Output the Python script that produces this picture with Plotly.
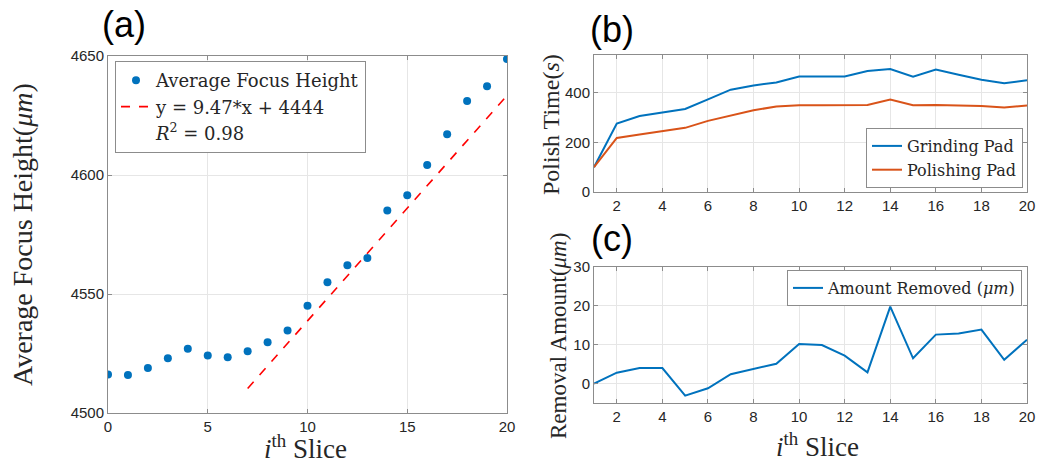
import plotly.graph_objects as go

# ---------------- data ----------------
slices_a = list(range(0, 21))
focus_height = [4516.2, 4516.0, 4518.9, 4523.0, 4527.0, 4524.2, 4523.4, 4525.9, 4529.7,
                4534.7, 4545.1, 4554.9, 4562.1, 4565.1, 4585.1, 4591.5, 4604.2, 4617.1,
                4631.1, 4637.3, 4648.7]
fit_slope = 9.47
fit_intercept = 4444
fit_x = [7, 20]

slices_bc = list(range(1, 21))
grinding_pad = [100, 276, 307, 322, 335, 374, 413, 430, 442, 466, 465, 466, 488, 496,
                465, 494, 473, 453, 439, 451]
polishing_pad = [100, 218, 232, 244, 259, 287, 310, 330, 345, 350, 350, 350, 351, 373,
                 350, 351, 350, 347, 341, 349]
removed = [0.0, 2.8, 4.0, 4.0, -3.1, -1.2, 2.4, 3.7, 5.1, 10.2, 9.9, 7.2, 2.9, 19.8,
           6.5, 12.6, 12.9, 13.9, 6.1, 11.3]

ticks_a_x = [0, 5, 10, 15, 20]
ticks_a_y = [4500, 4550, 4600, 4650]
ticks_bc_x = [2, 4, 6, 8, 10, 12, 14, 16, 18, 20]
ticks_b_y = [0, 200, 400]
ticks_c_y = [0, 10, 20, 30]

BLUE = "#0072BD"
ORANGE = "#D95319"
SERIF = "Liberation Serif"
LEGSERIF = "DejaVu Serif"
SANS = "Liberation Sans"
AXC = "#8c8c8c"
GRID = "#e6e6e6"
W, H = 1038, 465

fig = go.Figure()

fit_y = [fit_slope * x + fit_intercept for x in fit_x]

fig.add_trace(go.Scatter(x=slices_a, y=focus_height, mode="markers",
                         marker=dict(color=BLUE, size=8),
                         name="Average Focus Height", xaxis="x", yaxis="y", legend="legend"))
fig.add_trace(go.Scatter(x=fit_x, y=fit_y, mode="lines",
                         line=dict(color="#FF0000", width=1.6, dash="dash"),
                         name="y = 9.47*x + 4444", xaxis="x", yaxis="y", legend="legend"))
fig.add_trace(go.Scatter(x=[None], y=[None], mode="lines",
                         line=dict(color="rgba(0,0,0,0)", width=0),
                         name="<i>R</i><sup>2</sup> = 0.98", xaxis="x", yaxis="y", legend="legend"))

fig.add_trace(go.Scatter(x=slices_bc, y=grinding_pad, mode="lines",
                         line=dict(color=BLUE, width=2), name="Grinding Pad",
                         xaxis="x2", yaxis="y2", legend="legend2"))
fig.add_trace(go.Scatter(x=slices_bc, y=polishing_pad, mode="lines",
                         line=dict(color=ORANGE, width=2), name="Polishing Pad",
                         xaxis="x2", yaxis="y2", legend="legend2"))

fig.add_trace(go.Scatter(x=slices_bc, y=removed, mode="lines",
                         line=dict(color=BLUE, width=2), name="Amount Removed (<i>μm</i>)",
                         xaxis="x3", yaxis="y3", legend="legend3"))


def px_x(p):
    return p / W


def px_y(p):
    return 1 - p / H


def axis(domain, rng, tickvals, anchor):
    return dict(domain=domain, range=rng, tickvals=tickvals, anchor=anchor,
                automargin=False,
                showline=True, linecolor=AXC, linewidth=1, mirror="ticks",
                ticks="inside", ticklen=4, tickcolor=AXC,
                showgrid=True, gridcolor=GRID, gridwidth=1, zeroline=False,
                tickfont=dict(family=SANS, size=15, color="#262626"))


fig.update_layout(
    template="none",
    width=W, height=H,
    margin=dict(l=0, r=0, t=0, b=0, autoexpand=False),
    paper_bgcolor="white", plot_bgcolor="white",
    showlegend=True,
    xaxis=axis([px_x(108), px_x(507)], [0, 20], ticks_a_x, "y"),
    yaxis=axis([px_y(413), px_y(56)], [4500, 4650], ticks_a_y, "x"),
    xaxis2=axis([px_x(594), px_x(1027)], [1, 20], ticks_bc_x, "y2"),
    yaxis2=axis([px_y(192), px_y(55)], [0, 553], ticks_b_y, "x2"),
    xaxis3=axis([px_x(594), px_x(1027)], [1, 20], ticks_bc_x, "y3"),
    yaxis3=axis([px_y(403), px_y(267)], [-5, 30], ticks_c_y, "x3"),
    legend=dict(x=px_x(115), y=px_y(61), xanchor="left", yanchor="top",
                bgcolor="white", bordercolor=AXC, borderwidth=1,
                font=dict(family=LEGSERIF, size=18, color="#262626"),
                itemwidth=30, tracegroupgap=0),
    legend2=dict(x=px_x(1023), y=px_y(188), xanchor="right", yanchor="bottom",
                 bgcolor="white", bordercolor=AXC, borderwidth=1,
                 font=dict(family=LEGSERIF, size=16, color="#262626"),
                 itemwidth=30, tracegroupgap=0),
    legend3=dict(x=px_x(1022), y=px_y(270), xanchor="right", yanchor="top",
                 bgcolor="white", bordercolor=AXC, borderwidth=1,
                 font=dict(family=LEGSERIF, size=16, color="#262626"),
                 itemwidth=30, tracegroupgap=0),
)

ann = []
txt = dict(family=SERIF, color="#262626")
ann.append(dict(text="(a)", x=px_x(124), y=px_y(25), font=dict(family=SANS, size=36, color="black")))
ann.append(dict(text="(b)", x=px_x(612), y=px_y(30), font=dict(family=SANS, size=36, color="black")))
ann.append(dict(text="(c)", x=px_x(612), y=px_y(238), font=dict(family=SANS, size=36, color="black")))
ann.append(dict(text="Average Focus Height(<i>μm</i>)", x=px_x(22), y=px_y(235), textangle=-90,
                font=dict(size=28, **txt)))
ann.append(dict(text="<i>i</i><sup>th</sup> Slice", x=px_x(305), y=px_y(447),
                font=dict(size=27, **txt)))
ann.append(dict(text="Polish Time(<i>s</i>)", x=px_x(551), y=px_y(125), textangle=-90,
                font=dict(size=24, **txt)))
ann.append(dict(text="Removal Amount(<i>μm</i>)", x=px_x(558), y=px_y(336), textangle=-90,
                font=dict(size=23, **txt)))
ann.append(dict(text="<i>i</i><sup>th</sup> Slice", x=px_x(817), y=px_y(445),
                font=dict(size=27, **txt)))
for a in ann:
    a.update(xref="paper", yref="paper", showarrow=False, xanchor="center", yanchor="middle")
fig.update_layout(annotations=ann)

fig.write_html("out.html", config={"displayModeBar": False},
               post_script="document.body.style.margin='0px';document.body.style.overflow='hidden';")
